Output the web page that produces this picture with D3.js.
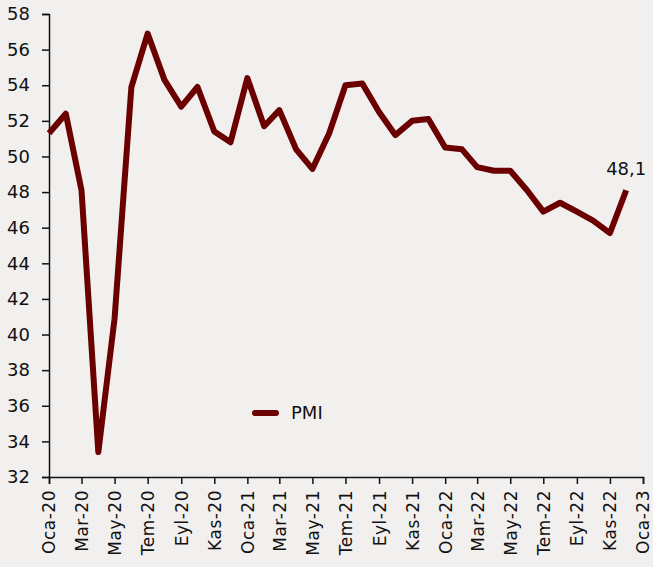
<!DOCTYPE html>
<html>
<head>
<meta charset="utf-8">
<script src="https://cdn.jsdelivr.net/npm/d3@7"></script>
<style>
  body { margin: 0; background: #f2f0ef; }
  svg { display: block; }
  text { font-family: "DejaVu Sans", sans-serif; fill: #111; }
</style>
</head>
<body>
<div id="pmi"></div>
<script>
// monthly PMI, Jan 2020 .. Dec 2022
var months = ["2020-01","2020-02","2020-03","2020-04","2020-05","2020-06","2020-07","2020-08","2020-09","2020-10","2020-11","2020-12",
              "2021-01","2021-02","2021-03","2021-04","2021-05","2021-06","2021-07","2021-08","2021-09","2021-10","2021-11","2021-12",
              "2022-01","2022-02","2022-03","2022-04","2022-05","2022-06","2022-07","2022-08","2022-09","2022-10","2022-11","2022-12"];
var pmi = [51.3, 52.4, 48.1, 33.4, 40.9, 53.9, 56.9, 54.3, 52.8, 53.9, 51.4, 50.8,
           54.4, 51.7, 52.6, 50.4, 49.3, 51.3, 54.0, 54.1, 52.5, 51.2, 52.0, 52.1,
           50.5, 50.4, 49.4, 49.2, 49.2, 48.1, 46.9, 47.4, 46.9, 46.4, 45.7, 48.1];
var monthNames = ["Oca","Şub","Mar","Nis","May","Haz","Tem","Ağu","Eyl","Eki","Kas","Ara"];
var yTicks = [32, 34, 36, 38, 40, 42, 44, 46, 48, 50, 52, 54, 56, 58];
var seriesName = "PMI";

var W = 653, H = 567;
var margin = {left: 49, top: 14, right: 10, bottom: 90};
var width = 643 - margin.left, height = 477 - margin.top;

var parse = d3.timeParse("%Y-%m");
var df = months.map(function(m, i) { return {date: parse(m), value: pmi[i]}; });

var svg = d3.select("#pmi").append("svg").attr("width", W).attr("height", H);
svg.append("rect").attr("width", W).attr("height", H).attr("fill", "#f2f0ef");
var g = svg.append("g").attr("transform", "translate(" + margin.left + "," + margin.top + ")");

var x = d3.scaleTime().domain([parse("2020-01"), parse("2023-01")]).range([0, width]);
var y = d3.scaleLinear().domain([32, 58]).range([height, 0]);

// Y axis
var yAxis = g.append("g").attr("class", "myYaxis")
    .call(d3.axisLeft(y).tickValues(yTicks).tickSize(7).tickPadding(12).tickFormat(d3.format("d")));
yAxis.selectAll("text").style("font-size", "18px").attr("fill", "#111");

// X axis
var xTickDates = d3.timeMonth.range(parse("2020-01"), d3.timeMonth.offset(parse("2023-01"), 1), 2);
var xAxis = g.append("g").attr("class", "myXaxis")
    .attr("transform", "translate(0," + height + ")")
    .call(d3.axisBottom(x).tickValues(xTickDates).tickSize(7)
        .tickFormat(function(d) { return monthNames[d.getMonth()] + "-" + d3.timeFormat("%y")(d); }));
xAxis.selectAll("text")
    .style("font-size", "17px")
    .style("letter-spacing", "0.5px")
    .attr("fill", "#111")
    .attr("text-anchor", "end")
    .attr("transform", "rotate(-90)")
    .attr("x", -13)
    .attr("y", 0)
    .attr("dy", "0.35em");

g.selectAll(".domain, .tick line").attr("stroke", "#111").attr("stroke-width", 1.5);

// line
var line = d3.line()
    .x(function(d) { return x(d.date); })
    .y(function(d) { return y(d.value); });

g.append("path")
    .datum(df)
    .attr("fill", "none")
    .attr("stroke", "#6b0000")
    .attr("stroke-width", 6)
    .attr("stroke-linejoin", "round")
    .attr("d", line);

// last value label
var last = df[df.length - 1];
g.append("text")
    .attr("x", x(last.date))
    .attr("y", y(last.value) - 15)
    .attr("text-anchor", "middle")
    .style("font-size", "18px")
    .text(d3.format(".1f")(last.value).replace(".", ","));

// legend
var leg = svg.append("g").attr("transform", "translate(253,413)");
leg.append("line")
    .attr("x1", 2).attr("x2", 23)
    .attr("stroke", "#6b0000").attr("stroke-width", 6).attr("stroke-linecap", "round");
leg.append("text").attr("x", 38).attr("dy", "0.36em")
    .style("font-size", "18px").text(seriesName);
</script>
</body>
</html>
